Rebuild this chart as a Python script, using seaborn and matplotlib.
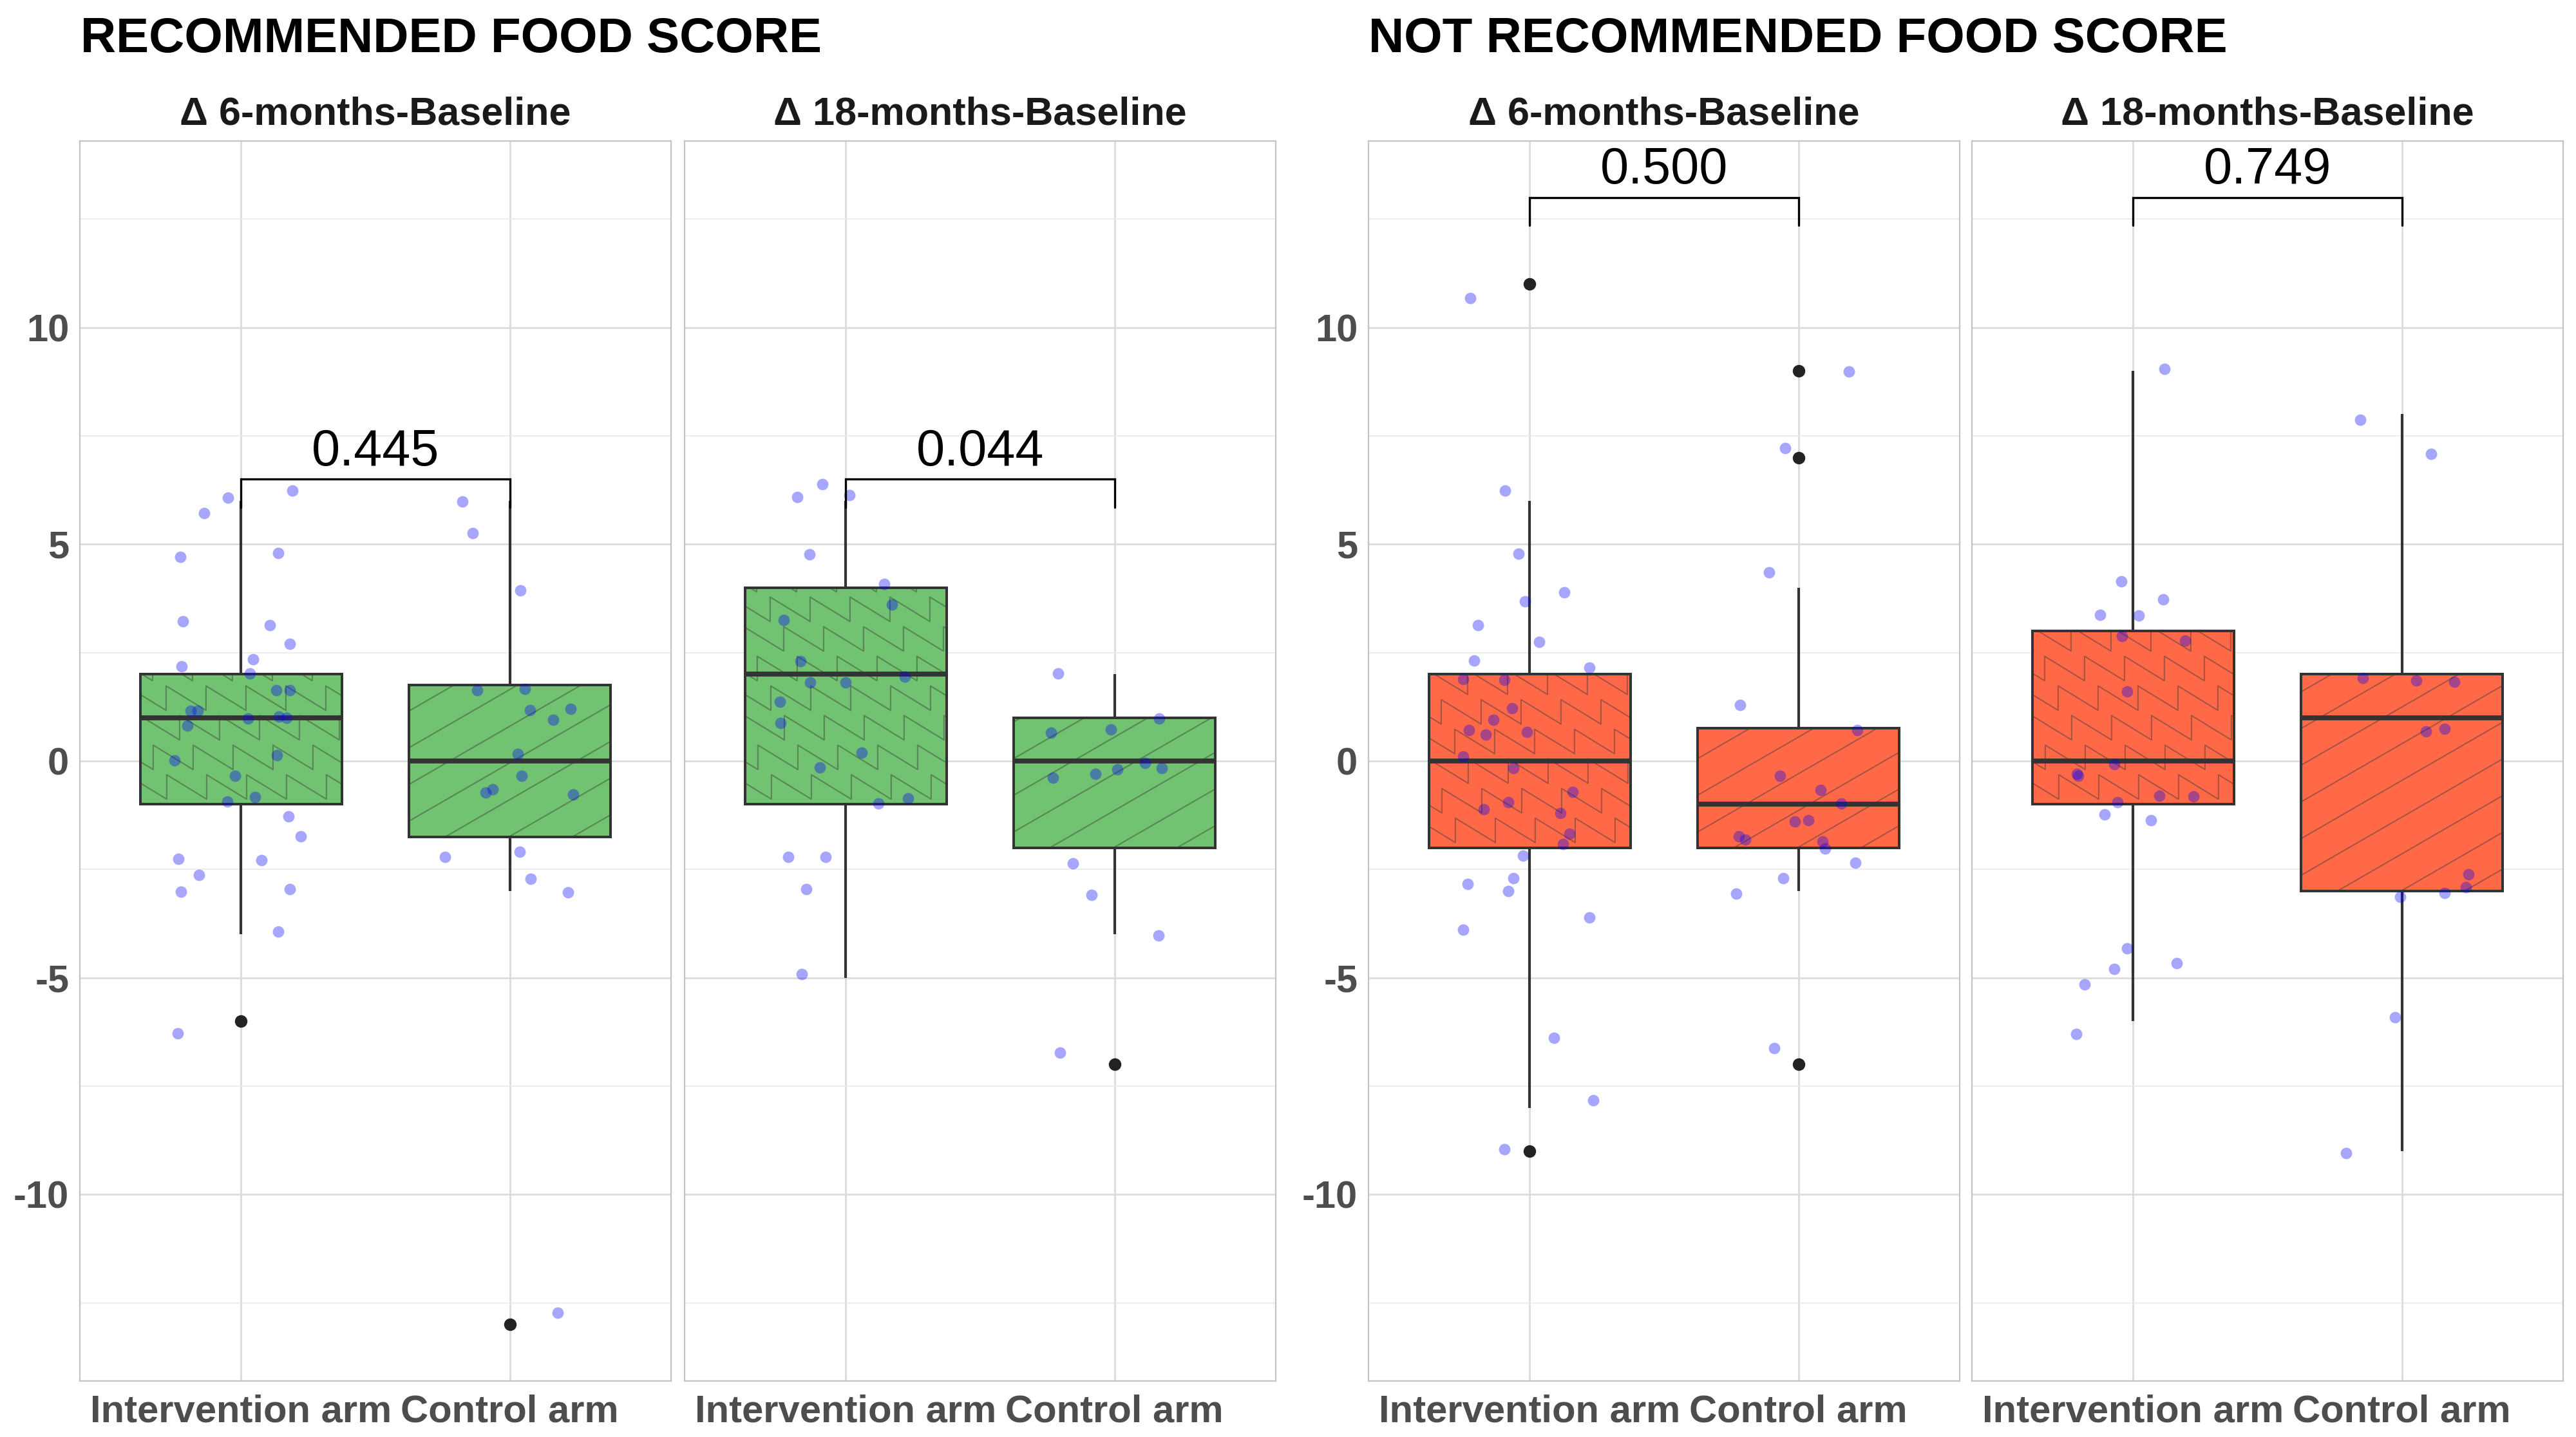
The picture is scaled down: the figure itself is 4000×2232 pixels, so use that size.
import numpy as np
import pandas as pd
import seaborn as sns
import matplotlib.pyplot as plt
from matplotlib.patches import PathPatch
from matplotlib.lines import Line2D
from matplotlib.transforms import IdentityTransform

# ---- data ----
arms = ['Intervention arm', 'Control arm']
group_titles = ['RECOMMENDED FOOD SCORE', 'NOT RECOMMENDED FOOD SCORE']
panel_titles = ['\u0394 6-months-Baseline', '\u0394 18-months-Baseline',
                '\u0394 6-months-Baseline', '\u0394 18-months-Baseline']
p_values = ['0.445', '0.044', '0.500', '0.749']
bracket_y = [6.5, 6.5, 13, 13]

# jittered points as drawn (y) and their horizontal jitter (dx)
rec6_int_y = [6.08, 6.23, 5.72, 4.70, 4.80, 3.22, 3.13, 2.71, 2.35, 2.19, 2.02, 1.63, 1.63,
              1.16, 1.16, 0.98, 1.02, 1.00, 0.81, 0.14, 0.01, -0.34, -0.83, -0.94, -1.27,
              -1.74, -2.25, -2.28, -2.63, -3.02, -2.96, -3.93, -6.28]
rec6_int_dx = [-0.05, 0.19, -0.137, -0.227, 0.137, -0.216, 0.108, 0.182, 0.045, -0.221, 0.033,
               0.132, 0.182, -0.187, -0.162, 0.026, 0.14, 0.17, -0.2, 0.134, -0.247, -0.023,
               0.052, -0.052, 0.177, 0.221, -0.234, 0.076, -0.157, -0.224, 0.182, 0.139, -0.236]
rec6_ctl_y = [5.98, 5.26, 3.93, 1.63, 1.67, 1.18, 1.20, 0.95, 0.17, -0.34, -0.73, -0.65, -0.77,
              -2.21, -2.09, -2.72, -3.03, -12.73]
rec6_ctl_dx = [-0.177, -0.138, 0.04, -0.122, 0.055, 0.076, 0.226, 0.161, 0.029, 0.045, -0.089,
               -0.065, 0.236, -0.24, 0.036, 0.078, 0.217, 0.178]

rec18_int_y = [6.39, 6.09, 6.13, 4.76, 4.09, 3.61, 3.25, 2.30, 1.94, 1.81, 1.81, 1.37, 0.87,
               0.19, -0.15, -0.86, -0.98, -2.21, -2.21, -2.96, -4.91]
rec18_int_dx = [-0.088, -0.181, 0.014, -0.136, 0.143, 0.171, -0.232, -0.169, 0.22, -0.132, 0.0,
                -0.245, -0.242, 0.059, -0.096, 0.232, 0.122, -0.215, -0.075, -0.148, -0.164]
rec18_ctl_y = [2.02, 0.66, 0.73, 0.98, -0.05, -0.16, -0.20, -0.29, -0.39, -2.36, -3.09, -4.03, -6.73]
rec18_ctl_dx = [-0.211, -0.237, -0.013, 0.166, 0.113, 0.176, 0.01, -0.07, -0.23, -0.155, -0.085,
                0.165, -0.202]

not6_int_y = [10.68, 6.23, 4.78, 3.89, 3.68, 3.14, 2.74, 2.31, 2.16, 1.88, 1.87, 1.22, 0.95,
              0.72, 0.61, 0.67, 0.10, -0.16, -0.72, -0.95, -1.11, -1.20, -1.68, -1.92, -2.19,
              -2.84, -2.71, -3.00, -3.61, -3.89, -6.38, -7.83, -8.95]
not6_int_dx = [-0.221, -0.093, -0.042, 0.129, -0.017, -0.192, 0.034, -0.208, 0.221, -0.248,
               -0.095, -0.065, -0.135, -0.225, -0.164, -0.011, -0.248, -0.061, 0.159, -0.081,
               -0.171, 0.115, 0.148, 0.123, -0.024, -0.232, -0.061, -0.081, 0.222, -0.247,
               0.09, 0.237, -0.095]
not6_ctl_y = [8.98, 7.21, 4.35, 1.29, 0.71, -0.34, -0.67, -0.98, -1.40, -1.36, -1.74, -1.81,
              -1.85, -2.02, -2.35, -2.70, -3.06, -6.63]
not6_ctl_dx = [0.188, -0.049, -0.109, -0.217, 0.22, -0.069, 0.082, 0.158, -0.014, 0.036, -0.221,
               -0.198, 0.089, 0.1, 0.212, -0.057, -0.231, -0.09]

not18_int_y = [9.05, 4.15, 3.73, 3.37, 3.35, 2.88, 2.78, 1.60, -0.07, -0.34, -0.30, -0.80, -0.82,
               -0.95, -1.23, -1.36, -4.32, -4.66, -4.80, -5.16, -6.29]
not18_int_dx = [0.116, -0.044, 0.112, -0.123, 0.02, -0.042, 0.194, -0.023, -0.07, -0.204, -0.21,
                0.098, 0.224, -0.059, -0.106, 0.066, -0.023, 0.161, -0.07, -0.181, -0.212]
not18_ctl_y = [7.87, 7.08, 1.91, 1.85, 1.82, 0.69, 0.74, -2.62, -2.91, -3.05, -3.13, -5.91, -9.04]
not18_ctl_dx = [-0.156, 0.108, -0.146, 0.053, 0.195, 0.089, 0.158, 0.248, 0.238, 0.159, -0.006,
                -0.026, -0.208]

panels = [
    (rec6_int_y, rec6_int_dx, rec6_ctl_y, rec6_ctl_dx),
    (rec18_int_y, rec18_int_dx, rec18_ctl_y, rec18_ctl_dx),
    (not6_int_y, not6_int_dx, not6_ctl_y, not6_ctl_dx),
    (not18_int_y, not18_int_dx, not18_ctl_y, not18_ctl_dx),
]

GREEN = '#71C271'
ORANGE = '#FF6948'
fills = [GREEN, GREEN, ORANGE, ORANGE]
LINE = '#333333'
FONT = ['Liberation Sans', 'DejaVu Sans']


def make_df(iy, idx, cy, cdx):
    d1 = pd.DataFrame({'arm': arms[0], 'y': iy, 'dx': idx, 'pos': 0})
    d2 = pd.DataFrame({'arm': arms[1], 'y': cy, 'dx': cdx, 'pos': 1})
    d = pd.concat([d1, d2], ignore_index=True)
    # underlying scores are whole numbers, the points carry jitter
    d['score'] = d['y'].round()
    d['xj'] = d['pos'] + d['dx']
    return d


def zigzag_lines(x0, y0, x1, y1, period=62, amp=38, gap=46, shift=21):
    # rows of sawtooth: diagonal down to the right, then straight up
    out = []
    k = 0
    for yb in np.arange(y0 - amp, y1 + amp, gap):
        xs, ys = [], []
        x = x0 - period - (k * shift) % period
        while x < x1 + period:
            xs += [x, x + period]
            ys += [yb + amp, yb]
            x += period
        out.append((xs, ys))
        k += 1
    return out


def stripe_lines(x0, y0, x1, y1, gap=57, ang=30):
    t = np.tan(np.radians(ang))
    w = x1 - x0
    out = []
    for yb in np.arange(y0 - w * t - gap * 0.4, y1 + gap, gap):
        out.append(([x0 - 5, x1 + 5], [yb - 5 * t, yb + (w + 5) * t]))
    return out


sns.set_style('white')
plt.rcParams['font.family'] = FONT

W, H = 4000, 2232
fig = plt.figure(figsize=(W / 100, H / 100), dpi=100)
lefts = [124, 1063, 2125, 3062]
pw, top, bot = 918, 219, 2145

for i, (iy, idx, cy, cdx) in enumerate(panels):
    ax = fig.add_axes([lefts[i] / W, 1 - bot / H, pw / W, (bot - top) / H])
    df = make_df(iy, idx, cy, cdx)

    sns.boxplot(data=df, x='arm', y='score', hue='arm', order=arms, hue_order=arms,
                palette=[fills[i], fills[i]], saturation=1, width=0.75, legend=False,
                linewidth=2.8, linecolor=LINE, fliersize=13, showcaps=False,
                medianprops=dict(linewidth=5.5, color=LINE),
                whiskerprops=dict(linewidth=3.0, color=LINE),
                flierprops=dict(marker='o', markerfacecolor='#222222',
                                markeredgecolor='#222222'),
                ax=ax)
    sns.scatterplot(data=df, x='xj', y='y', color='blue', alpha=0.35, s=165,
                    linewidth=0, legend=False, zorder=5, ax=ax)

    ax.set_xlim(-0.6, 1.6)
    ax.set_ylim(-14.3, 14.3)
    ax.set_xticks([0, 1])
    ax.set_xticklabels(arms)
    ax.set_yticks([-10, -5, 0, 5, 10])
    ax.set_yticklabels(['-10', '-5', '0', '5', '10'])
    ax.set_yticks([-12.5, -7.5, -2.5, 2.5, 7.5, 12.5], minor=True)
    ax.set_xlabel('')
    ax.set_ylabel('')
    ax.set_axisbelow(True)
    ax.grid(True, which='major', axis='both', color='#DCDCDC', linewidth=2.0)
    ax.grid(True, which='minor', axis='y', color='#EAEAEA', linewidth=1.2)
    for sp in ax.spines.values():
        sp.set_visible(True)
        sp.set_color('#C4C4C4')
        sp.set_linewidth(1.6)
    ax.tick_params(which='major', length=7, width=1.6, color=LINE, labelsize=43,
                   labelcolor='#4D4D4D', pad=5)
    ax.tick_params(axis='x', pad=8)
    ax.tick_params(which='minor', length=0)
    if i % 2 == 1:
        ax.tick_params(axis='y', left=False, labelleft=False)
    for t in ax.get_xticklabels() + ax.get_yticklabels():
        t.set_fontweight('bold')

    # pattern fills drawn in pixel space and clipped to each box
    boxes = [p for p in ax.patches if isinstance(p, PathPatch)]
    for p in boxes:
        bb = p.get_path().get_extents(p.get_transform())
        cx = ax.transData.inverted().transform(((bb.x0 + bb.x1) / 2, 0))[0]
        if cx < 0.5:
            segs = zigzag_lines(bb.x0, bb.y0, bb.x1, bb.y1)
        else:
            segs = stripe_lines(bb.x0, bb.y0, bb.x1, bb.y1)
        z = p.get_zorder()
        for xs, ys in segs:
            ln = Line2D(xs, ys, transform=IdentityTransform(), color=LINE, alpha=0.42,
                        linewidth=1.5, zorder=z + 0.02)
            ln.set_clip_path(p)
            ax.add_artist(ln)
        ax.add_patch(PathPatch(p.get_path(), transform=p.get_transform(), fill=False,
                               edgecolor=LINE, linewidth=2.8, zorder=z + 0.05))
        for ln in ax.lines:
            if ln.get_zorder() < z + 0.1:
                ln.set_zorder(z + 0.1)

    # significance bracket
    by = bracket_y[i]
    ax.plot([0, 0, 1, 1], [by - 0.65, by, by, by - 0.65], color='black', linewidth=2.4,
            zorder=6, solid_joinstyle='miter')
    ax.text(0.5, by + 0.32, p_values[i], ha='center', va='baseline', fontsize=57,
            color='black', zorder=7)

    ax.text(0.5, 1 + 26 / (bot - top), panel_titles[i], transform=ax.transAxes,
            ha='center', va='baseline', fontsize=44, fontweight='bold', color='#1A1A1A')

fig.text(125 / W, 1 - 81 / H, group_titles[0], fontsize=55, fontweight='bold',
         va='baseline', ha='left', color='black')
fig.text(2125 / W, 1 - 81 / H, group_titles[1], fontsize=55, fontweight='bold',
         va='baseline', ha='left', color='black')

fig.savefig('out.png', dpi=100, facecolor='white')
